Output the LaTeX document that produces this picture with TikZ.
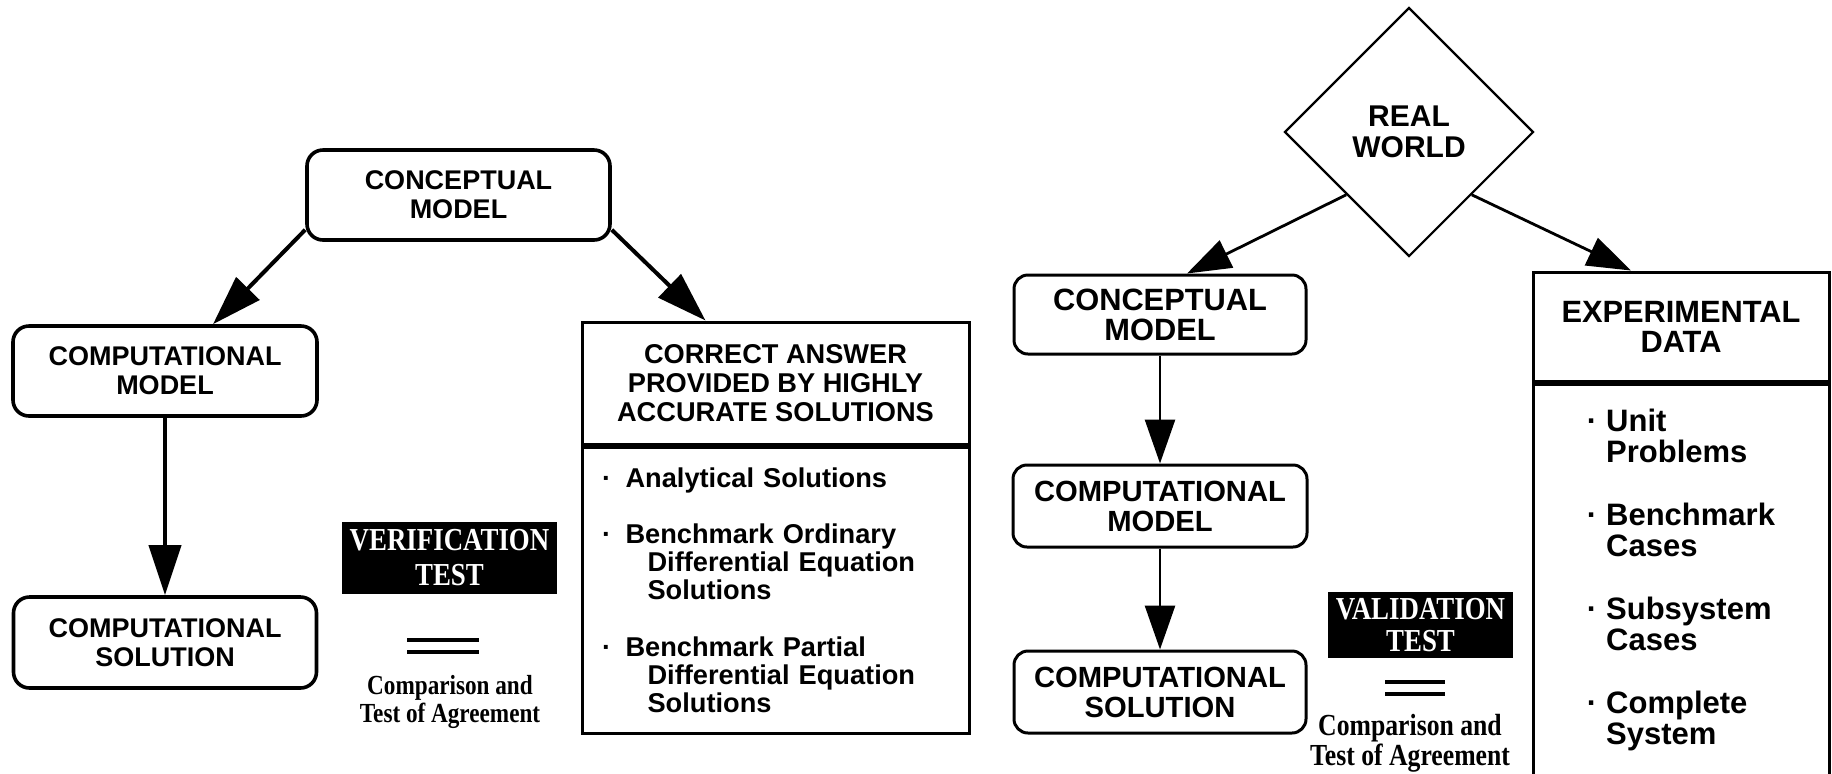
\documentclass[tikz,border=0pt]{standalone}
\usepackage{fontspec}
\setmainfont{Liberation Sans}
\newfontfamily\serifcond[FakeStretch=0.84]{Liberation Serif}
\usetikzlibrary{shapes.geometric,arrows.meta}

\newcommand{\bul}[1]{\makebox[#1][l]{·}}

\tikzset{
  modelL/.style={draw, line width=1.8pt, rounded corners=8pt, align=center,
    inner sep=0pt, font={\fontsize{13.5pt}{14.5pt}\selectfont\bfseries}},
  modelR/.style={draw, line width=1.5pt, rounded corners=7pt, align=center,
    inner sep=0pt, font={\fontsize{14.6pt}{15pt}\selectfont\bfseries}},
  listhead/.style={draw, line width=1.5pt, align=center, inner sep=0pt},
  testbox/.style={fill=black, text=white, align=center, inner sep=0pt,
    font={\serifcond\bfseries\fontsize{16pt}{17.5pt}\selectfont}},
  agree/.style={align=center, inner sep=0pt},
  eqbar/.style={line width=2pt},
  arrL/.style={line width=2pt, -{Triangle[length=25pt,width=16pt]}},
  arrR/.style={line width=1.4pt, -{Triangle[length=22pt,width=15pt]}}
}

\begin{document}
\begin{tikzpicture}[x=0.5pt, y=-0.5pt]
  \useasboundingbox (0,0) rectangle (1832,773);

  % verification side
  \node[modelL, minimum width=151.5pt, minimum height=45pt] (conceptL) at (458.5,195) {CONCEPTUAL\\MODEL};
  \node[modelL, minimum width=152pt, minimum height=45pt] (compmodelL) at (165,371) {COMPUTATIONAL\\MODEL};
  \node[modelL, minimum width=151.5pt, minimum height=45.5pt] (compsolL) at (165,642.5) {COMPUTATIONAL\\SOLUTION};

  \node[listhead, minimum width=193.5pt, minimum height=61pt,
    font={\fontsize{13.6pt}{14.6pt}\selectfont\bfseries}] (answer) at (775.5,383)
    {CORRECT ANSWER\\PROVIDED BY HIGHLY\\ACCURATE SOLUTIONS};
  \node[listhead, anchor=north, text width=173.5pt, inner xsep=10pt, minimum height=143pt, align=left,
    font={\fontsize{13.6pt}{14pt}\selectfont\bfseries}] (answerlist) at (answer.south)
    {\bul{11.8pt}Analytical Solutions\\[14pt]
     \bul{11.8pt}Benchmark Ordinary\\
     \hspace*{22.8pt}Differential Equation\\
     \hspace*{22.8pt}Solutions\\[14.6pt]
     \bul{11.8pt}Benchmark Partial\\
     \hspace*{22.8pt}Differential Equation\\
     \hspace*{22.8pt}Solutions};

  \node[testbox, minimum width=107.5pt, minimum height=36pt] (verification) at (449.5,558) {VERIFICATION\\TEST};
  \draw[eqbar] (407,640) -- (479,640);
  \draw[eqbar] (407,652) -- (479,652);
  \node[agree, font={\serifcond\bfseries\fontsize{13.8pt}{14pt}\selectfont}] (agreeL) at (450,702)
    {Comparison and\\Test of Agreement};

  \draw[arrL] ([yshift=6pt]conceptL.south west) -- ([xshift=24pt]compmodelL.north);
  \draw[arrL] ([yshift=6pt]conceptL.south east) -- ([xshift=-35pt]answer.north);
  \draw[arrL] (compmodelL) -- (compsolL);

  % validation side
  \node[draw, diamond, aspect=1, line width=1.1pt, inner sep=0pt, minimum width=124.5pt,
    minimum height=124.5pt, align=center,
    font={\fontsize{15pt}{15.8pt}\selectfont\bfseries}] (world) at (1409,132) {REAL\\WORLD};

  \node[modelR, minimum width=146pt, minimum height=39.5pt,
    font={\fontsize{15.4pt}{15pt}\selectfont\bfseries}] (conceptR) at (1160,314.5) {CONCEPTUAL\\MODEL};
  \node[modelR, minimum width=147pt, minimum height=41pt] (compmodelR) at (1160,506) {COMPUTATIONAL\\MODEL};
  \node[modelR, minimum width=146pt, minimum height=41pt] (compsolR) at (1160,692) {COMPUTATIONAL\\SOLUTION};

  \node[listhead, minimum width=148pt, minimum height=54.5pt,
    font={\fontsize{15.4pt}{15pt}\selectfont\bfseries}] (expdata) at (1681,326.5) {EXPERIMENTAL\\DATA};
  \node[listhead, anchor=north, minimum width=148pt, minimum height=195.5pt, align=left,
    font={\fontsize{15.5pt}{15.5pt}\selectfont\bfseries}] (expitems) at (expdata.south)
    {\bul{9.6pt}Unit\\ \hspace*{9.6pt}Problems\\[16pt]
     \bul{9.6pt}Benchmark\\ \hspace*{9.6pt}Cases\\[16pt]
     \bul{9.6pt}Subsystem\\ \hspace*{9.6pt}Cases\\[16pt]
     \bul{9.6pt}Complete\\ \hspace*{9.6pt}System};

  \node[testbox, minimum width=92.5pt, minimum height=33pt,
    font={\serifcond\bfseries\fontsize{16pt}{16pt}\selectfont}] (validation) at (1420.5,625) {VALIDATION\\TEST};
  \draw[eqbar] (1385,682) -- (1445,682);
  \draw[eqbar] (1385,694) -- (1445,694);
  \node[agree, font={\serifcond\bfseries\fontsize{15.3pt}{15pt}\selectfont}] (agreeR) at (1410,743)
    {Comparison and\\Test of Agreement};

  \draw[arrR] (world.south west) -- ([xshift=13.5pt]conceptR.north);
  \draw[arrR] (world.south east) -- ([xshift=-25pt]expdata.north);
  \draw[arrR] (conceptR) -- (compmodelR);
  \draw[arrR] (compmodelR) -- (compsolR);
\end{tikzpicture}
\end{document}
